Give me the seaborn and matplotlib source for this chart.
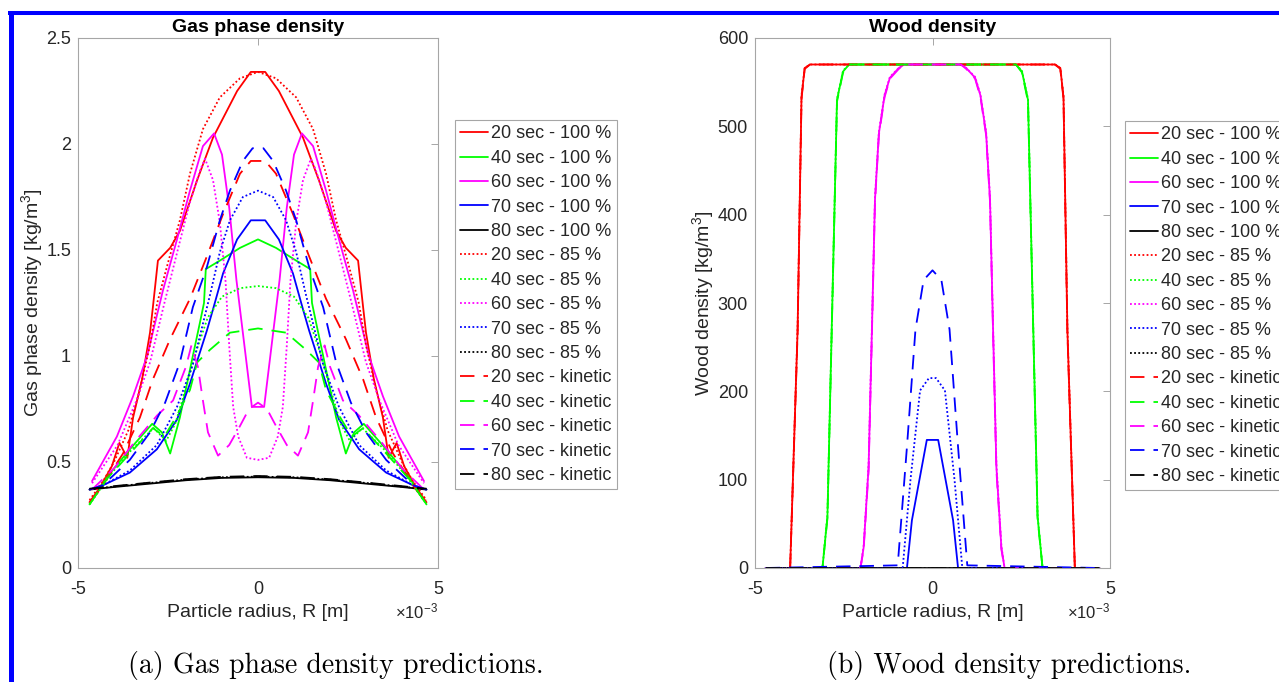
import numpy as np
import matplotlib
matplotlib.use("Agg")
import matplotlib.pyplot as plt
import seaborn as sns
from matplotlib.ticker import FuncFormatter, FixedLocator
from matplotlib.lines import Line2D

# ---------------- data (radius in mm, densities as read) ----------------
# Gas phase density [kg/m3]
gas_x_20_100 = [-4.68, -4.39, -4.06, -3.85, -3.63, -3.47, -3.22, -3.00, -2.92, -2.78, -2.44, -2.17, -1.69, -1.25, -0.58, -0.20,
                0.20, 0.58, 1.25, 1.69, 2.17, 2.44, 2.78, 2.92, 3.00, 3.22, 3.47, 3.63, 3.85, 4.06, 4.39, 4.68]
gas_y_20_100 = [0.31, 0.38, 0.48, 0.59, 0.52, 0.71, 0.89, 1.11, 1.23, 1.45, 1.51, 1.59, 1.83, 2.03, 2.25, 2.34,
                2.34, 2.25, 2.03, 1.83, 1.59, 1.51, 1.45, 1.23, 1.11, 0.89, 0.71, 0.52, 0.59, 0.48, 0.38, 0.31]
gas_x_40_100 = [-4.68, -4.19, -3.56, -2.94, -2.67, -2.44, -2.17, -1.81, -1.61, -1.50, -1.45, -1.06, -0.50, 0.00,
                0.50, 1.06, 1.45, 1.50, 1.61, 1.81, 2.17, 2.44, 2.67, 2.94, 3.56, 4.19, 4.68]
gas_y_40_100 = [0.30, 0.43, 0.56, 0.68, 0.64, 0.54, 0.71, 1.00, 1.16, 1.25, 1.41, 1.45, 1.51, 1.55,
                1.51, 1.45, 1.41, 1.25, 1.16, 1.00, 0.71, 0.54, 0.64, 0.68, 0.56, 0.43, 0.30]
gas_x_60_100 = [-4.61, -3.92, -3.47, -3.08, -2.64, -2.25, -1.89, -1.53, -1.22, -1.00, -0.80, -0.60, -0.17,
                0.17, 0.60, 0.80, 1.00, 1.22, 1.53, 1.89, 2.25, 2.64, 3.08, 3.47, 3.92, 4.61]
gas_y_60_100 = [0.41, 0.62, 0.81, 1.00, 1.31, 1.55, 1.78, 1.99, 2.05, 1.95, 1.70, 1.36, 0.76,
                0.76, 1.36, 1.70, 1.95, 2.05, 1.99, 1.78, 1.55, 1.31, 1.00, 0.81, 0.62, 0.41]
gas_x_70_100 = [-4.68, -4.31, -3.56, -2.81, -2.25, -1.89, -1.42, -1.25, -0.97, -0.58, -0.20,
                0.20, 0.58, 0.97, 1.25, 1.42, 1.89, 2.25, 2.81, 3.56, 4.31, 4.68]
gas_y_70_100 = [0.37, 0.39, 0.45, 0.56, 0.70, 0.87, 1.12, 1.22, 1.39, 1.55, 1.64,
                1.64, 1.55, 1.39, 1.22, 1.12, 0.87, 0.70, 0.56, 0.45, 0.39, 0.37]
gas_x_80 = [-4.68, -4.00, -3.00, -2.00, -1.00, 0.00, 1.00, 2.00, 3.00, 4.00, 4.68]
gas_y_80_100 = [0.370, 0.382, 0.398, 0.414, 0.425, 0.428, 0.425, 0.414, 0.398, 0.382, 0.370]

gas_x_20_85 = [-4.68, -4.30, -4.00, -3.60, -3.30, -3.00, -2.80, -2.50, -2.17, -1.89, -1.53, -1.06, -0.50, 0.00,
               0.50, 1.06, 1.53, 1.89, 2.17, 2.50, 2.80, 3.00, 3.30, 3.60, 4.00, 4.30, 4.68]
gas_y_20_85 = [0.32, 0.41, 0.50, 0.65, 0.83, 1.05, 1.25, 1.44, 1.64, 1.86, 2.07, 2.22, 2.31, 2.34,
               2.31, 2.22, 2.07, 1.86, 1.64, 1.44, 1.25, 1.05, 0.83, 0.65, 0.50, 0.41, 0.32]
gas_x_40_85 = [-4.68, -4.10, -3.50, -2.90, -2.55, -2.30, -2.00, -1.70, -1.40, -1.00, -0.50, 0.00,
               0.50, 1.00, 1.40, 1.70, 2.00, 2.30, 2.55, 2.90, 3.50, 4.10, 4.68]
gas_y_40_85 = [0.30, 0.44, 0.56, 0.66, 0.60, 0.68, 0.85, 1.03, 1.18, 1.28, 1.32, 1.33,
               1.32, 1.28, 1.18, 1.03, 0.85, 0.68, 0.60, 0.66, 0.56, 0.44, 0.30]
gas_x_60_85 = [-4.61, -3.90, -3.40, -3.00, -2.60, -2.20, -1.90, -1.60, -1.47, -1.25, -1.06, -0.90, -0.80, -0.69, -0.55, -0.31, 0.00,
               0.31, 0.55, 0.69, 0.80, 0.90, 1.06, 1.25, 1.47, 1.60, 1.90, 2.20, 2.60, 3.00, 3.40, 3.90, 4.61]
gas_y_60_85 = [0.40, 0.58, 0.78, 0.97, 1.25, 1.52, 1.72, 1.88, 1.93, 1.83, 1.63, 1.35, 1.05, 0.76, 0.62, 0.52, 0.51,
               0.52, 0.62, 0.76, 1.05, 1.35, 1.63, 1.83, 1.93, 1.88, 1.72, 1.52, 1.25, 0.97, 0.78, 0.58, 0.40]
gas_x_70_85 = [-4.68, -4.31, -3.56, -2.81, -2.25, -1.81, -1.33, -1.06, -0.78, -0.42, 0.00,
               0.42, 0.78, 1.06, 1.33, 1.81, 2.25, 2.81, 3.56, 4.31, 4.68]
gas_y_70_85 = [0.37, 0.39, 0.46, 0.58, 0.76, 0.96, 1.29, 1.49, 1.64, 1.75, 1.78,
               1.75, 1.64, 1.49, 1.29, 0.96, 0.76, 0.58, 0.46, 0.39, 0.37]
gas_y_80_85 = [0.372, 0.384, 0.401, 0.417, 0.428, 0.431, 0.428, 0.417, 0.401, 0.384, 0.372]

gas_x_20_kin = [-4.68, -4.39, -3.75, -3.28, -2.92, -2.44, -1.89, -1.42, -0.97, -0.50, -0.20,
                0.20, 0.50, 0.97, 1.42, 1.89, 2.44, 2.92, 3.28, 3.75, 4.39, 4.68]
gas_y_20_kin = [0.31, 0.37, 0.54, 0.71, 0.89, 1.08, 1.27, 1.47, 1.67, 1.86, 1.92,
                1.92, 1.86, 1.67, 1.47, 1.27, 1.08, 0.89, 0.71, 0.54, 0.37, 0.31]
gas_x_40_kin = [-4.68, -4.20, -3.56, -2.92, -2.60, -2.25, -1.89, -1.69, -1.33, -0.78, 0.00,
                0.78, 1.33, 1.69, 1.89, 2.25, 2.60, 2.92, 3.56, 4.20, 4.68]
gas_y_40_kin = [0.30, 0.42, 0.54, 0.66, 0.62, 0.72, 0.84, 0.97, 1.03, 1.11, 1.13,
                1.11, 1.03, 0.97, 0.84, 0.72, 0.62, 0.66, 0.54, 0.42, 0.30]
gas_x_60_kin = [-4.61, -4.00, -3.40, -2.80, -2.36, -2.00, -1.85, -1.67, -1.53, -1.39, -1.11, -0.80, -0.50, -0.25, 0.00,
                0.25, 0.50, 0.80, 1.11, 1.39, 1.53, 1.67, 1.85, 2.00, 2.36, 2.80, 3.40, 4.00, 4.61]
gas_y_60_kin = [0.37, 0.47, 0.60, 0.72, 0.79, 0.95, 1.05, 0.95, 0.79, 0.64, 0.53, 0.58, 0.67, 0.75, 0.78,
                0.75, 0.67, 0.58, 0.53, 0.64, 0.79, 0.95, 1.05, 0.95, 0.79, 0.72, 0.60, 0.47, 0.37]
gas_x_70_kin = [-4.68, -4.31, -3.56, -3.00, -2.58, -2.17, -1.81, -1.42, -1.06, -0.78, -0.42, -0.15,
                0.15, 0.42, 0.78, 1.06, 1.42, 1.81, 2.17, 2.58, 3.00, 3.56, 4.31, 4.68]
gas_y_70_kin = [0.37, 0.39, 0.51, 0.64, 0.78, 0.97, 1.23, 1.42, 1.64, 1.78, 1.92, 1.98,
                1.98, 1.92, 1.78, 1.64, 1.42, 1.23, 0.97, 0.78, 0.64, 0.51, 0.39, 0.37]
gas_y_80_kin = [0.374, 0.386, 0.403, 0.419, 0.430, 0.434, 0.430, 0.419, 0.403, 0.386, 0.374]

# Wood density [kg/m3]
wood_x_20 = [-4.70, -4.01, -3.80, -3.69, -3.60, -3.45, 3.45, 3.60, 3.69, 3.80, 4.01, 4.70]
wood_y_20_100 = [0, 0, 269, 533, 566, 570, 570, 566, 533, 269, 0, 0]
wood_y_20_85 = [0, 0, 272, 535, 566, 570, 570, 566, 535, 272, 0, 0]
wood_y_20_kin = [0, 0, 266, 531, 565, 570, 570, 565, 531, 266, 0, 0]
wood_x_40 = [-4.70, -3.10, -2.96, -2.82, -2.69, -2.52, -2.35, 2.35, 2.52, 2.69, 2.82, 2.96, 3.10, 4.70]
wood_y_40_100 = [0, 0, 58, 303, 530, 562, 570, 570, 562, 530, 303, 58, 0, 0]
wood_y_40_85 = [0, 0, 60, 305, 531, 563, 570, 570, 563, 531, 305, 60, 0, 0]
wood_y_40_kin = [0, 0, 56, 300, 528, 561, 570, 570, 561, 528, 300, 56, 0, 0]
wood_x_60 = [-4.70, -2.03, -1.94, -1.80, -1.70, -1.62, -1.51, -1.35, -1.20, -0.95, -0.80,
             0.80, 0.95, 1.20, 1.35, 1.51, 1.62, 1.70, 1.80, 1.94, 2.03, 4.70]
wood_y_60_100 = [0, 0, 23, 114, 280, 417, 492, 535, 555, 566, 570,
                 570, 566, 555, 535, 492, 417, 280, 114, 23, 0, 0]
wood_y_60_85 = [0, 0, 25, 118, 284, 420, 494, 536, 556, 566, 570,
                570, 566, 556, 536, 494, 420, 284, 118, 25, 0, 0]
wood_y_60_kin = [0, 0, 21, 110, 276, 414, 490, 533, 554, 565, 570,
                 570, 565, 554, 533, 490, 414, 276, 110, 21, 0, 0]
wood_x_70_100 = [-4.70, -0.72, -0.58, -0.16, 0.16, 0.58, 0.72, 4.70]
wood_y_70_100 = [0, 0, 54, 145, 145, 54, 0, 0]
wood_x_70_85 = [-4.70, -0.84, -0.62, -0.35, -0.10, 0.10, 0.35, 0.62, 0.84, 4.70]
wood_y_70_85 = [0, 0, 100, 201, 215, 215, 201, 100, 0, 0]
wood_x_70_kin = [-4.70, -0.98, -0.72, -0.48, -0.25, 0.00, 0.25, 0.48, 0.72, 0.98, 4.70]
wood_y_70_kin = [0, 3, 137, 270, 326, 337, 326, 270, 137, 3, 0]
wood_x_80 = [-4.70, -2.00, 0.00, 2.00, 4.70]
wood_y_80 = [0, 0, 0, 0, 0]

labels_100 = ["20 sec - 100 %", "40 sec - 100 %", "60 sec - 100 %", "70 sec - 100 %", "80 sec - 100 %"]
labels_85 = ["20 sec - 85 %", "40 sec - 85 %", "60 sec - 85 %", "70 sec - 85 %", "80 sec - 85 %"]
labels_kin = ["20 sec - kinetic", "40 sec - kinetic", "60 sec - kinetic", "70 sec - kinetic", "80 sec - kinetic"]
colors = ["#ff0000", "#00ff00", "#ff00ff", "#0000ff", "#000000"]

# ---------------- style ----------------
sns.set_style("white")
plt.rcParams["font.family"] = ["Liberation Sans", "DejaVu Sans"]
plt.rcParams["mathtext.fontset"] = "custom"
plt.rcParams["mathtext.rm"] = "Liberation Sans"
plt.rcParams["mathtext.it"] = "Liberation Sans:italic"
plt.rcParams["mathtext.bf"] = "Liberation Sans:bold"
plt.rcParams["axes.unicode_minus"] = False

SOLID = "-"
DOTTED = (0, (1, 1.3))
DASHED = (0, (8, 5))
LW = 1.3
TXT = "#262626"
EDGE = "#a6a6a6"

W, H = 1279, 682
fig = plt.figure(figsize=(W / 100, H / 100), dpi=100)
ax1 = fig.add_axes([78 / W, 1 - 568 / H, 360 / W, 530 / H])
ax2 = fig.add_axes([755 / W, 1 - 568 / H, 355 / W, 530 / H])

gas_series = [
    (gas_x_20_100, gas_y_20_100, colors[0], SOLID, labels_100[0]),
    (gas_x_40_100, gas_y_40_100, colors[1], SOLID, labels_100[1]),
    (gas_x_60_100, gas_y_60_100, colors[2], SOLID, labels_100[2]),
    (gas_x_70_100, gas_y_70_100, colors[3], SOLID, labels_100[3]),
    (gas_x_80, gas_y_80_100, colors[4], SOLID, labels_100[4]),
    (gas_x_20_85, gas_y_20_85, colors[0], DOTTED, labels_85[0]),
    (gas_x_40_85, gas_y_40_85, colors[1], DOTTED, labels_85[1]),
    (gas_x_60_85, gas_y_60_85, colors[2], DOTTED, labels_85[2]),
    (gas_x_70_85, gas_y_70_85, colors[3], DOTTED, labels_85[3]),
    (gas_x_80, gas_y_80_85, colors[4], DOTTED, labels_85[4]),
    (gas_x_20_kin, gas_y_20_kin, colors[0], DASHED, labels_kin[0]),
    (gas_x_40_kin, gas_y_40_kin, colors[1], DASHED, labels_kin[1]),
    (gas_x_60_kin, gas_y_60_kin, colors[2], DASHED, labels_kin[2]),
    (gas_x_70_kin, gas_y_70_kin, colors[3], DASHED, labels_kin[3]),
    (gas_x_80, gas_y_80_kin, colors[4], DASHED, labels_kin[4]),
]
wood_series = [
    (wood_x_20, wood_y_20_100, colors[0], SOLID, labels_100[0]),
    (wood_x_40, wood_y_40_100, colors[1], SOLID, labels_100[1]),
    (wood_x_60, wood_y_60_100, colors[2], SOLID, labels_100[2]),
    (wood_x_70_100, wood_y_70_100, colors[3], SOLID, labels_100[3]),
    (wood_x_80, wood_y_80, colors[4], SOLID, labels_100[4]),
    (wood_x_20, wood_y_20_85, colors[0], DOTTED, labels_85[0]),
    (wood_x_40, wood_y_40_85, colors[1], DOTTED, labels_85[1]),
    (wood_x_60, wood_y_60_85, colors[2], DOTTED, labels_85[2]),
    (wood_x_70_85, wood_y_70_85, colors[3], DOTTED, labels_85[3]),
    (wood_x_80, wood_y_80, colors[4], DOTTED, labels_85[4]),
    (wood_x_20, wood_y_20_kin, colors[0], DASHED, labels_kin[0]),
    (wood_x_40, wood_y_40_kin, colors[1], DASHED, labels_kin[1]),
    (wood_x_60, wood_y_60_kin, colors[2], DASHED, labels_kin[2]),
    (wood_x_70_kin, wood_y_70_kin, colors[3], DASHED, labels_kin[3]),
    (wood_x_80, wood_y_80, colors[4], DASHED, labels_kin[4]),
]


def draw(ax, series):
    for x, y, c, ls, lab in series:
        sns.lineplot(x=np.asarray(x) * 1e-3, y=np.asarray(y, dtype=float), ax=ax, color=c,
                     linestyle=ls, linewidth=LW, label=lab, legend=False, sort=False,
                     estimator=None, clip_on=False)


draw(ax1, gas_series)
draw(ax2, wood_series)


def style(ax, ylim, yticks, ylabel, title, leg_xy):
    ax.set_xlim(-5e-3, 5e-3)
    ax.set_ylim(*ylim)
    ax.xaxis.set_major_locator(FixedLocator([-5e-3, 0.0, 5e-3]))
    fmt = FuncFormatter(lambda v, p: f"{v * 1e3:g}")
    fmt.set_offset_string(r"$\times10^{-3}$")
    ax.xaxis.set_major_formatter(fmt)
    ax.yaxis.set_major_locator(FixedLocator(yticks))
    ax.yaxis.set_major_formatter(FuncFormatter(lambda v, p: f"{v:g}"))
    ax.tick_params(direction="in", top=True, right=True, length=5, width=0.7,
                   color=EDGE, labelcolor=TXT, labelsize=13, pad=5)
    ax.tick_params(axis="x", pad=9)
    for s in ax.spines.values():
        s.set_color(EDGE)
        s.set_linewidth(0.8)
    ax.xaxis.get_offset_text().set_fontsize(12)
    ax.xaxis.get_offset_text().set_color(TXT)
    ax.set_xlabel("Particle radius, R [m]", fontsize=14, color=TXT, labelpad=5)
    ax.set_ylabel(ylabel, fontsize=14, color=TXT, labelpad=1)
    ax.set_title(title, fontsize=14, fontweight="bold", color="black", pad=4)
    leg = ax.legend(loc="upper left", bbox_to_anchor=leg_xy, bbox_transform=fig.transFigure,
                    borderaxespad=0, fontsize=13, handlelength=1.5, handletextpad=0.2,
                    labelspacing=0.41, borderpad=0.3, frameon=True, fancybox=False,
                    framealpha=1, edgecolor=EDGE)
    leg.get_frame().set_linewidth(0.8)
    for t in leg.get_texts():
        t.set_color(TXT)


style(ax1, (0, 2.5), [0, 0.5, 1, 1.5, 2, 2.5], "Gas phase density [kg/m$^3$]",
      "Gas phase density", (455 / W, 1 - 120 / H))
style(ax2, (0, 600), [0, 100, 200, 300, 400, 500, 600], "Wood density [kg/m$^3$]",
      "Wood density", (1125 / W, 1 - 121 / H))

# captions
fig.text(336 / W, 1 - 665 / H, "(a) Gas phase density predictions.", family="cmr10",
         fontsize=20, ha="center", va="center", color="black")
fig.text(1009 / W, 1 - 665 / H, "(b) Wood density predictions.", family="cmr10",
         fontsize=20, ha="center", va="center", color="black")

# blue page frame
fig.add_artist(Line2D([10.8 / W, 10.8 / W], [0, 1 - 11 / H], transform=fig.transFigure,
                      color="#0000ff", lw=3.6, solid_capstyle="butt"))
fig.add_artist(Line2D([8.3 / W, 1], [1 - 13 / H, 1 - 13 / H], transform=fig.transFigure,
                      color="#0000ff", lw=2.9, solid_capstyle="butt"))

fig.savefig("out.png", dpi=100)
